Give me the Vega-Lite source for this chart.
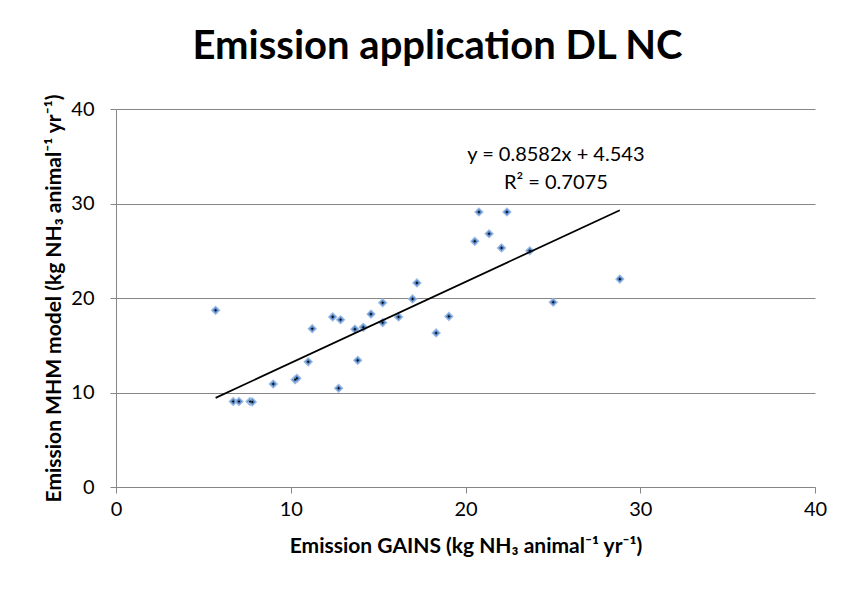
{
  "$schema": "https://vega.github.io/schema/vega-lite/v6.json",
  "width": 699,
  "height": 378,
  "autosize": {"type": "none"},
  "padding": {"left": 116, "top": 109, "right": 28, "bottom": 103},
  "background": "white",
  "title": {
    "text": "Emission application DL NC",
    "font": "Lato",
    "fontSize": 40,
    "fontWeight": "bold",
    "color": "black",
    "anchor": "middle",
    "dx": -28,
    "dy": 44,
    "offset": 39,
    "baseline": "alphabetic"
  },
  "config": {"view": {"stroke": null}, "font": "Lato"},
  "datasets": {
    "points": [
      {"x": 5.70, "y": 18.7},
      {"x": 6.71, "y": 9.05},
      {"x": 7.04, "y": 9.05},
      {"x": 7.67, "y": 9.05},
      {"x": 7.80, "y": 9.0},
      {"x": 9.0, "y": 10.9},
      {"x": 10.25, "y": 11.35},
      {"x": 10.35, "y": 11.5},
      {"x": 11.0, "y": 13.25},
      {"x": 11.23, "y": 16.75},
      {"x": 12.4, "y": 18.0},
      {"x": 12.74, "y": 10.45},
      {"x": 12.85, "y": 17.7},
      {"x": 13.67, "y": 16.7},
      {"x": 13.83, "y": 13.4},
      {"x": 14.15, "y": 16.9},
      {"x": 14.59, "y": 18.3},
      {"x": 15.26, "y": 19.5},
      {"x": 15.26, "y": 17.4},
      {"x": 16.17, "y": 18.0},
      {"x": 16.97, "y": 19.9},
      {"x": 17.22, "y": 21.6},
      {"x": 18.32, "y": 16.3},
      {"x": 19.05, "y": 18.05},
      {"x": 20.53, "y": 26.0},
      {"x": 20.77, "y": 29.1},
      {"x": 21.35, "y": 26.8},
      {"x": 22.06, "y": 25.3},
      {"x": 22.37, "y": 29.1},
      {"x": 23.68, "y": 25.0},
      {"x": 25.02, "y": 19.55},
      {"x": 28.83, "y": 22.0}
    ],
    "trend": [
      {"x": 5.70, "y": 9.43},
      {"x": 28.83, "y": 29.29}
    ],
    "labels": [
      {"line": "y = 0.8582x + 4.543", "lx": 25.17, "ly": 34.5},
      {"line": "R² = 0.7075", "lx": 25.17, "ly": 31.55}
    ]
  },
  "layer": [
    {
      "data": {"name": "points"},
      "mark": {"type": "point", "shape": "diamond", "filled": true, "fill": "#5286c8", "stroke": "#9dbbe3", "strokeWidth": 1.2, "size": 64, "opacity": 1},
      "encoding": {
        "x": {
          "field": "x",
          "type": "quantitative",
          "scale": {"domain": [0, 40], "nice": false, "zero": false},
          "axis": {
            "values": [0, 10, 20, 30, 40],
            "grid": false,
            "domainColor": "#868686",
            "domainWidth": 1,
            "tickColor": "#868686",
            "tickSize": 6,
            "labelFont": "Lato",
            "labelFontSize": 20,
            "labelColor": "black",
            "labelPadding": 6,
            "labelFlush": false,
            "labelOverlap": false,
            "title": "Emission GAINS (kg NH₃ animal⁻¹ yr⁻¹)",
            "titleFont": "Lato",
            "titleFontSize": 21,
            "titleFontWeight": "bold",
            "titleColor": "black",
            "titlePadding": 16
          }
        },
        "y": {
          "field": "y",
          "type": "quantitative",
          "scale": {"domain": [0, 40], "nice": false, "zero": false},
          "axis": {
            "values": [0, 10, 20, 30, 40],
            "grid": true,
            "gridColor": "#868686",
            "gridWidth": 1,
            "domainColor": "#868686",
            "domainWidth": 1,
            "tickColor": "#868686",
            "tickSize": 6,
            "labelFont": "Lato",
            "labelFontSize": 20,
            "labelColor": "black",
            "labelPadding": 16,
            "labelFlush": false,
            "labelOverlap": false,
            "title": "Emission MHM model (kg NH₃ animal⁻¹ yr⁻¹)",
            "titleFont": "Lato",
            "titleFontSize": 21,
            "titleFontWeight": "bold",
            "titleColor": "black",
            "titlePadding": 6
          }
        }
      }
    },
    {
      "data": {"name": "points"},
      "mark": {"type": "point", "shape": "diamond", "filled": true, "color": "black", "size": 7, "opacity": 1},
      "encoding": {
        "x": {"field": "x", "type": "quantitative"},
        "y": {"field": "y", "type": "quantitative"}
      }
    },
    {
      "data": {"name": "trend"},
      "mark": {"type": "line", "color": "black", "strokeWidth": 1.75},
      "encoding": {
        "x": {"field": "x", "type": "quantitative"},
        "y": {"field": "y", "type": "quantitative"}
      }
    },
    {
      "data": {"name": "labels"},
      "mark": {"type": "text", "font": "Lato", "fontSize": 20, "color": "black", "align": "center", "baseline": "alphabetic"},
      "encoding": {
        "x": {"field": "lx", "type": "quantitative"},
        "y": {"field": "ly", "type": "quantitative"},
        "text": {"field": "line"}
      }
    }
  ]
}
